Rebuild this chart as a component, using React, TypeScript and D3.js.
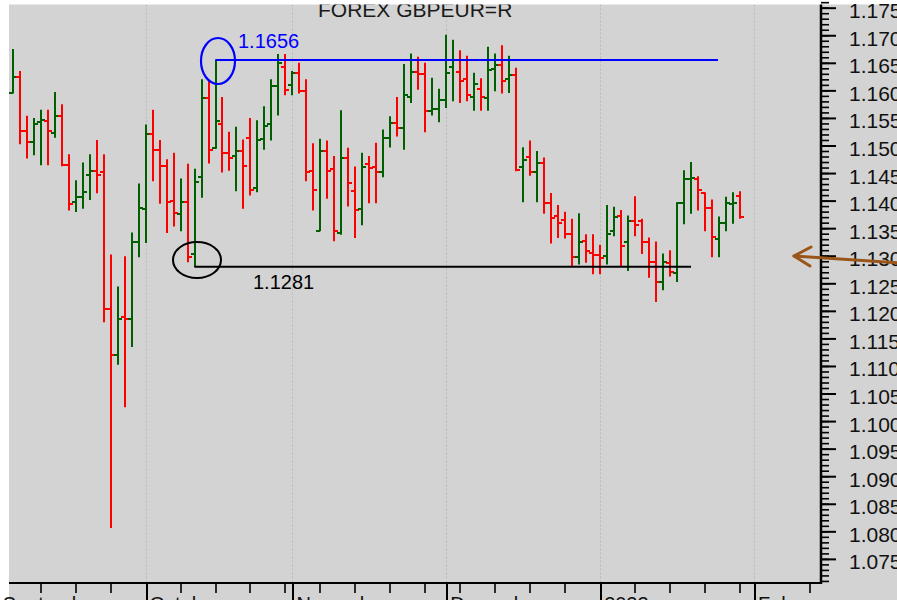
import React from "react";
import * as d3 from "d3";

const openV = [
  1.1596, 1.1625, 1.1528, 1.1508, 1.1544, 1.1546, 1.1524, 1.1554, 1.1466, 1.1398,
  1.1407, 1.1447, 1.1455, 1.1452, 1.1204, 1.1121, 1.1189, 1.1187, 1.1325, 1.1386,
  1.1521, 1.1493, 1.1464, 1.1401, 1.1376, 1.1398, 1.1304, 1.1443, 1.1587, 1.1496,
  1.1540, 1.1487, 1.1482, 1.1490, 1.1514, 1.1423, 1.1513, 1.1540, 1.1609, 1.1644,
  1.1611, 1.1632, 1.1600, 1.1455, 1.1346, 1.1490, 1.1458, 1.1343, 1.1478, 1.1419,
  1.1385, 1.1467, 1.1462, 1.1452, 1.1514, 1.1542, 1.1533, 1.1589, 1.1634, 1.1631,
  1.1564, 1.1567, 1.1583, 1.1644, 1.1634, 1.1621, 1.1589, 1.1603, 1.1587, 1.1640,
  1.1647, 1.1621, 1.1628, 1.1461, 1.1480, 1.1453, 1.1470, 1.1396, 1.1373, 1.1366,
  1.1340, 1.1299, 1.1328, 1.1305, 1.1303, 1.1300, 1.1345, 1.1373, 1.1325, 1.1364,
  1.1364, 1.1325, 1.1290, 1.1254, 1.1287, 1.1269, 1.1396, 1.1440, 1.1441, 1.1415,
  1.1388, 1.1331, 1.1361, 1.1395, 1.1410,
];

const highV = [
  1.1675, 1.1635, 1.1554, 1.1550, 1.1565, 1.1565, 1.1597, 1.1575, 1.1484, 1.1437,
  1.1469, 1.1484, 1.1510, 1.1484, 1.1302, 1.1244, 1.1299, 1.1342, 1.1431, 1.1538,
  1.1565, 1.1510, 1.1475, 1.1487, 1.1440, 1.1467, 1.1458, 1.1620, 1.1617, 1.1656,
  1.1588, 1.1525, 1.1534, 1.1511, 1.1550, 1.1546, 1.1571, 1.1620, 1.1666, 1.1666,
  1.1635, 1.1650, 1.1620, 1.1504, 1.1512, 1.1509, 1.1481, 1.1564, 1.1496, 1.1462,
  1.1487, 1.1481, 1.1505, 1.1529, 1.1553, 1.1588, 1.1648, 1.1667, 1.1661, 1.1650,
  1.1623, 1.1603, 1.1701, 1.1692, 1.1673, 1.1663, 1.1632, 1.1622, 1.1679, 1.1667,
  1.1682, 1.1663, 1.1641, 1.1497, 1.1509, 1.1490, 1.1478, 1.1414, 1.1392, 1.1380,
  1.1367, 1.1377, 1.1339, 1.1339, 1.1320, 1.1392, 1.1389, 1.1383, 1.1373, 1.1408,
  1.1367, 1.1333, 1.1326, 1.1304, 1.1310, 1.1397, 1.1455, 1.1470, 1.1444, 1.1415,
  1.1402, 1.1371, 1.1407, 1.1415, 1.1417,
];

const lowV = [
  1.1596, 1.1504, 1.1478, 1.1484, 1.1466, 1.1466, 1.1516, 1.1464, 1.1384, 1.1381,
  1.1387, 1.1403, 1.1415, 1.1181, 1.0808, 1.1104, 1.1027, 1.1136, 1.1299, 1.1325,
  1.1437, 1.1396, 1.1343, 1.1355, 1.1346, 1.1290, 1.1281, 1.1407, 1.1469, 1.1496,
  1.1453, 1.1456, 1.1419, 1.1387, 1.1411, 1.1417, 1.1494, 1.1511, 1.1556, 1.1593,
  1.1593, 1.1596, 1.1437, 1.1384, 1.1346, 1.1405, 1.1328, 1.1340, 1.1391, 1.1334,
  1.1357, 1.1397, 1.1397, 1.1444, 1.1498, 1.1518, 1.1494, 1.1579, 1.1603, 1.1526,
  1.1556, 1.1544, 1.1570, 1.1582, 1.1579, 1.1582, 1.1565, 1.1565, 1.1565, 1.1600,
  1.1596, 1.1597, 1.1455, 1.1399, 1.1447, 1.1399, 1.1378, 1.1324, 1.1334, 1.1333,
  1.1282, 1.1286, 1.1289, 1.1268, 1.1268, 1.1286, 1.1337, 1.1282, 1.1274, 1.1337,
  1.1305, 1.1262, 1.1218, 1.1239, 1.1264, 1.1254, 1.1359, 1.1378, 1.1384, 1.1346,
  1.1299, 1.1299, 1.1346, 1.1360, 1.1369,
];

const closeV = [
  1.1625, 1.1528, 1.1508, 1.1540, 1.1547, 1.1528, 1.1554, 1.1466, 1.1395, 1.1407,
  1.1417, 1.1455, 1.1447, 1.1204, 1.1121, 1.1187, 1.1186, 1.1325, 1.1388, 1.1521,
  1.1493, 1.1464, 1.1398, 1.1379, 1.1398, 1.1299, 1.1435, 1.1587, 1.1493, 1.1546,
  1.1487, 1.1478, 1.1490, 1.1464, 1.1420, 1.1511, 1.1536, 1.1608, 1.1650, 1.1602,
  1.1632, 1.1600, 1.1452, 1.1420, 1.1490, 1.1455, 1.1345, 1.1478, 1.1432, 1.1383,
  1.1461, 1.1460, 1.1452, 1.1514, 1.1542, 1.1533, 1.1593, 1.1634, 1.1631, 1.1564,
  1.1567, 1.1583, 1.1632, 1.1656, 1.1618, 1.1593, 1.1612, 1.1588, 1.1637, 1.1647,
  1.1618, 1.1628, 1.1456, 1.1475, 1.1453, 1.1470, 1.1397, 1.1370, 1.1360, 1.1340,
  1.1299, 1.1325, 1.1310, 1.1303, 1.1297, 1.1340, 1.1372, 1.1319, 1.1364, 1.1357,
  1.1325, 1.1290, 1.1254, 1.1290, 1.1271, 1.1396, 1.1441, 1.1442, 1.1420, 1.1388,
  1.1334, 1.1361, 1.1396, 1.1397, 1.1372,
];

// month boundaries (bar index) and labels
const monthIdx = [-2, 19, 40, 62, 84, 106];
const monthLabels = ["September", "October", "November", "December", "2022", "February"];
// weekly minor ticks (bar index)
const weekIdx = [4, 9, 14, 24, 29, 34, 39, 44, 49, 54, 59, 64, 69, 74, 79, 89, 94, 99, 104, 114];

const yTickValues = [
  1.175, 1.17, 1.165, 1.16, 1.155, 1.15, 1.145, 1.14, 1.135, 1.13, 1.125,
  1.12, 1.115, 1.11, 1.105, 1.1, 1.095, 1.09, 1.085, 1.08, 1.075,
];

const resistance = 1.1656;
const support = 1.1281;
const title = "FOREX GBPEUR=R";

const W = 897;
const H = 600;
const L = 9;
const T = 4.5;
const R = 821;
const B = 583;
const FONT = "'Liberation Sans', Arial, sans-serif";
const UP = "#006000";
const DOWN = "#ff0000";

export default function App() {
  const x = d3.scaleLinear().domain([0, openV.length - 1]).range([12.7, 740]);
  const y = d3.scaleLinear().domain([support, resistance]).range([266.7, 60]);
  const minorY = d3.range(1071, 1177).map((v) => v / 1000);
  const fmt = d3.format(".3f");

  const bars = openV.map((o, i) => {
    const cx = Math.round(x(i));
    const up = closeV[i] >= o;
    const col = up ? UP : DOWN;
    return (
      <g key={i} stroke={col} strokeWidth={2}>
        <line x1={cx} x2={cx} y1={y(highV[i]) - 0.5} y2={y(lowV[i]) + 0.5} />
        <line x1={cx - 4} x2={cx} y1={Math.round(y(o))} y2={Math.round(y(o))} />
        <line x1={cx} x2={cx + 4} y1={Math.round(y(closeV[i]))} y2={Math.round(y(closeV[i]))} />
      </g>
    );
  });

  const supX0 = x(26);
  const resX0 = x(29);

  return (
    <svg
      width={W}
      height={H}
      style={{ position: "absolute", left: 0, top: 0, display: "block" }}
      fontFamily={FONT}
    >
      <defs>
        <clipPath id="plotClip">
          <rect x={L} y={T} width={R - L} height={B - T} />
        </clipPath>
      </defs>
      <rect x={0} y={0} width={W} height={H} fill="#ffffff" />
      <rect x={L} y={T} width={W - L} height={H - T} fill="#d3d3d3" />

      <g clipPath="url(#plotClip)">
        {monthIdx.slice(1).map((m, i) => (
          <line
            key={i}
            x1={Math.round(x(m)) + 0.5}
            x2={Math.round(x(m)) + 0.5}
            y1={T}
            y2={B}
            stroke="#b9b9b9"
            strokeWidth={1}
            strokeDasharray="2,2"
          />
        ))}
        <text x={318} y={16.5} fontSize={21} fill="#1a1a1a">
          {title}
        </text>
        {bars}

        {/* resistance */}
        <line x1={resX0} x2={718} y1={y(resistance)} y2={y(resistance)} stroke="#0000ff" strokeWidth={2} />
        <ellipse cx={218} cy={61} rx={17} ry={23} fill="none" stroke="#0000ff" strokeWidth={2.2} />
        <text x={238} y={48} fontSize={20} fill="#0000ff">
          {resistance.toFixed(4)}
        </text>

        {/* support */}
        <line x1={supX0} x2={691} y1={y(support)} y2={y(support)} stroke="#000000" strokeWidth={2} />
        <ellipse cx={197} cy={260} rx={24} ry={18} fill="none" stroke="#000000" strokeWidth={2} />
        <text x={253} y={289} fontSize={20} fill="#000000">
          {support.toFixed(4)}
        </text>
      </g>

      {/* right axis */}
      <line x1={R} x2={R} y1={T} y2={B + 1} stroke="#000" strokeWidth={2.5} />
      {minorY.map((v, i) => (
        <line key={"m" + i} x1={R} x2={R + 8} y1={y(v)} y2={y(v)} stroke="#000" strokeWidth={1.6} />
      ))}
      {yTickValues.map((v, i) => (
        <g key={"t" + i}>
          <line x1={R} x2={R + 15} y1={y(v)} y2={y(v)} stroke="#000" strokeWidth={2} />
          <text x={849} y={y(v) + 10} fontSize={21} fill="#111">
            {fmt(v)}
          </text>
        </g>
      ))}

      {/* bottom axis */}
      <line x1={L} x2={R} y1={B} y2={B} stroke="#000" strokeWidth={2} />
      {weekIdx.map((w, i) => (
        <line
          key={"w" + i}
          x1={Math.round(x(w))}
          x2={Math.round(x(w))}
          y1={B}
          y2={B + 10}
          stroke="#000"
          strokeWidth={1.6}
        />
      ))}
      {monthIdx.slice(1).map((m, i) => (
        <line
          key={"M" + i}
          x1={Math.round(x(m)) + 1}
          x2={Math.round(x(m)) + 1}
          y1={B}
          y2={H}
          stroke="#000"
          strokeWidth={2}
        />
      ))}
      {monthIdx.map((m, i) => (
        <text key={"ml" + i} x={x(m) + 4} y={611} fontSize={20} fill="#111">
          {monthLabels[i]}
        </text>
      ))}

      {/* arrow pointing to current level */}
      <g stroke="#9a5519" strokeWidth={3} fill="none" strokeLinecap="round" strokeLinejoin="round">
        <line x1={794} y1={256} x2={900} y2={263} />
        <polyline points="811,247 794,256 810,266" />
      </g>
    </svg>
  );
}
